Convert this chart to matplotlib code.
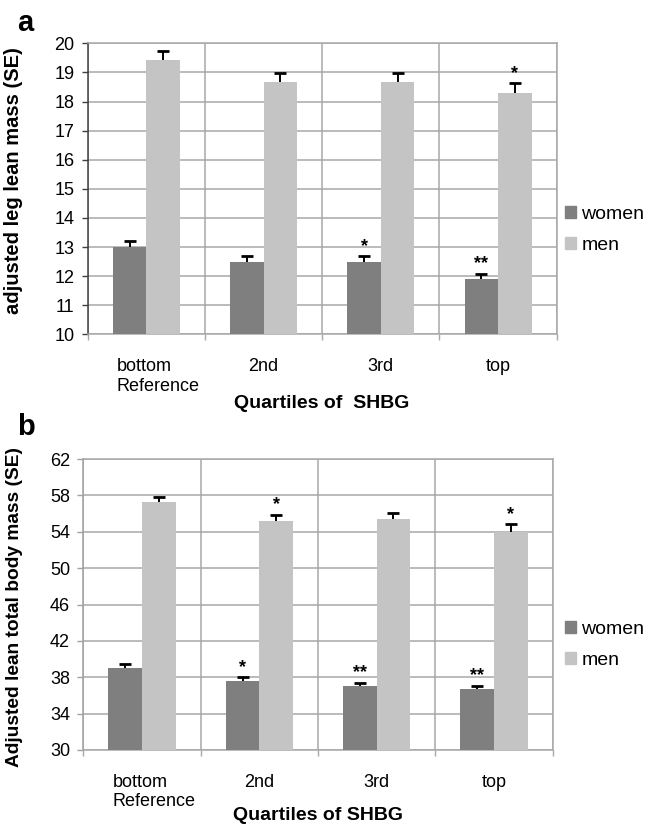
import numpy as np
import matplotlib.pyplot as plt
from matplotlib.transforms import ScaledTranslation

plt.rcParams['font.family'] = ['Liberation Sans', 'DejaVu Sans']

# --- data ---
quartiles = ['bottom\nReference', '2nd', '3rd', 'top']
series = ['women', 'men']

# panel a: adjusted leg lean mass
leg_women = [13.0, 12.48, 12.48, 11.9]
leg_women_se = [0.2, 0.2, 0.2, 0.18]
leg_men = [19.43, 18.67, 18.67, 18.3]
leg_men_se = [0.32, 0.32, 0.32, 0.33]
leg_women_stars = ['', '', '*', '**']
leg_men_stars = ['', '', '', '*']

# panel b: adjusted lean total body mass
tot_women = [39.05, 37.55, 37.0, 36.7]
tot_women_se = [0.45, 0.45, 0.4, 0.38]
tot_men = [57.25, 55.2, 55.4, 54.0]
tot_men_se = [0.62, 0.66, 0.7, 0.8]
tot_women_stars = ['', '*', '**', '**']
tot_men_stars = ['', '*', '', '*']

WOMEN_C = '#7f7f7f'
MEN_C = '#c4c4c4'
GRID_C = '#a8a8a8'
BAR_W = 0.286


def draw_panel(ax, women, women_se, men, men_se, w_stars, m_stars,
               ylim, ystep, left_spine):
    x = np.arange(len(quartiles))
    for vals, se, stars, off, col in [(women, women_se, w_stars, -BAR_W / 2, WOMEN_C),
                                      (men, men_se, m_stars, BAR_W / 2, MEN_C)]:
        vals = np.asarray(vals)
        tops = vals + np.asarray(se)
        ax.bar(x + off, vals, BAR_W, color=col, zorder=3)
        # upper half of the SE bar only, with a cap
        ax.vlines(x + off, vals, tops, color='black', linewidth=1.4, zorder=4)
        ax.plot(x + off, tops, ls='none', marker='_', markersize=8, mew=2,
                color='black', zorder=4)
        for xi, t, st in zip(x + off, tops, stars):
            if st:
                ax.annotate(st, (xi, t), xytext=(0, 4), textcoords='offset points',
                            ha='center', va='baseline', fontsize=13, fontweight='bold')

    ax.set_xlim(-0.5, len(quartiles) - 0.5)
    ax.set_ylim(*ylim)
    ax.set_yticks(np.arange(ylim[0], ylim[1] + 0.1, ystep))
    ax.set_xticks(x)
    ax.set_xticklabels(quartiles, multialignment='left')
    ax.set_xticks(np.arange(-0.5, len(quartiles)), minor=True)
    ax.tick_params(axis='x', which='major', length=0, pad=17, labelsize=13)
    ax.tick_params(axis='x', which='minor', length=4.5, color=GRID_C, width=1)
    ax.tick_params(axis='y', length=4.5, width=1, color=left_spine, pad=5, labelsize=13)
    ax.grid(axis='y', color=GRID_C, linewidth=1.1, zorder=0)
    ax.grid(axis='x', which='minor', color=GRID_C, linewidth=1.1, zorder=0)
    ax.set_axisbelow(True)
    for side in ['top', 'right', 'bottom']:
        ax.spines[side].set_color(GRID_C)
        ax.spines[side].set_linewidth(1.1)
    ax.spines['left'].set_color(left_spine)
    ax.spines['left'].set_linewidth(1.1)
    # the two-line first label sits a little right of its category in the original
    lab = ax.get_xticklabels()[0]
    lab.set_transform(lab.get_transform() + ScaledTranslation(0.12, 0, ax.figure.dpi_scale_trans))


fig = plt.figure(figsize=(6.54, 8.26), dpi=100)
W, H = 654.0, 826.0

ax1 = fig.add_axes([87.7 / W, 1 - 334.3 / H, 469 / W, 291 / H])
draw_panel(ax1, leg_women, leg_women_se, leg_men, leg_men_se,
           leg_women_stars, leg_men_stars, (10, 20), 1, '#404040')
ax1.set_ylabel('adjusted leg lean mass (SE)', fontsize=14.5, fontweight='bold')
ax1.yaxis.set_label_coords(-(87.7 - 23) / 469, 0.53)

ax2 = fig.add_axes([83.3 / W, 1 - 750 / H, 469.4 / W, 291 / H])
draw_panel(ax2, tot_women, tot_women_se, tot_men, tot_men_se,
           tot_women_stars, tot_men_stars, (30, 62), 4, '#a0a0a0')
ax2.set_ylabel('Adjusted lean total body mass (SE)', fontsize=13.8, fontweight='bold')
ax2.yaxis.set_label_coords(-(83.3 - 23) / 469.4, 0.49)

fig.text(322 / W, 1 - 403 / H, 'Quartiles of  SHBG', ha='center', va='center',
         fontsize=14, fontweight='bold')
fig.text(318 / W, 1 - 816 / H, 'Quartiles of SHBG', ha='center', va='center',
         fontsize=14, fontweight='bold')
fig.text(17 / W, 1 - 23 / H, 'a', ha='left', va='center', fontsize=21, fontweight='bold')
fig.text(17 / W, 1 - 427 / H, 'b', ha='left', va='center', fontsize=21, fontweight='bold')

for ax, yc in [(ax1, 230), (ax2, 645)]:
    handles = [plt.Rectangle((0, 0), 1, 1, color=c) for c in (WOMEN_C, MEN_C)]
    fig.legend(handles, series, loc='center left', bbox_to_anchor=(565 / W, 1 - yc / H),
               frameon=False, fontsize=14, handlelength=0.55, handleheight=0.55,
               handletextpad=0.3, labelspacing=0.7, borderpad=0, borderaxespad=0)

fig.savefig('out.png', dpi=100)
